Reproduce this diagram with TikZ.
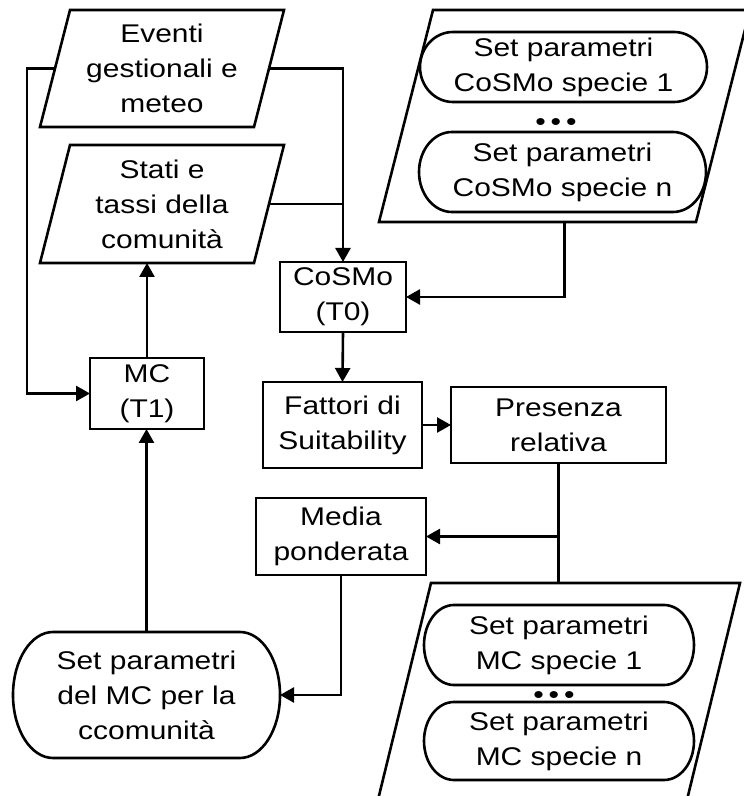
\documentclass[tikz,border=0pt]{standalone}
\usepackage{fontspec}
\setmainfont{Liberation Sans}[FakeStretch=1.17]
\usetikzlibrary{arrows.meta,calc}
\newcommand\stadiumdraw[2]{%
  \draw[lw] let \p1=(#1.north), \p2=(#1.south), \n1={(\y1-\y2)/2} in
    ([xshift=#2]#1.north west) -- ([xshift=-#2]#1.north east)
    arc[start angle=90,end angle=-90,x radius=#2,y radius=\n1]
    -- ([xshift=#2]#1.south west)
    arc[start angle=270,end angle=90,x radius=#2,y radius=\n1] -- cycle;}
\newcommand\paradraw[2]{%
  \draw[lw] ([xshift=#2]#1.north west) -- (#1.north east)
    -- ([xshift=-#2]#1.south east) -- (#1.south west) -- cycle;}
\begin{document}
\begin{tikzpicture}[x=1pt,y=1pt,
  every node/.style={font=\fontsize{25.6}{35}\selectfont, align=center, inner sep=0pt, outer sep=0pt},
  lw/.style={line width=2.6pt},
  box/.style={draw, lw, rectangle},
  para/.style={rectangle},
  stad/.style={rectangle},
  dots/.style={yshift=-4pt},
  arr/.style={lw, -{Triangle[length=14pt,width=15pt]}},
  con/.style={lw}]
\useasboundingbox (0,0) rectangle (744,796);
\clip (0,0) rectangle (744,796);
% left column
\node[para, minimum width=244pt, minimum height=117pt] (ev) at (162,727.5) {Eventi\\gestionali e\\meteo};
\paradraw{ev}{30pt}
\node[para, minimum width=244pt, minimum height=118pt] (st) at (162,592) {Stati e\\tassi della\\comunità};
\paradraw{st}{30pt}
\node[box, minimum width=114pt, minimum height=71pt] (mc) at (147,402.5) {MC\\(T1)};
\node[stad, minimum width=267pt, minimum height=126pt] (sp) at (146.5,101) {Set parametri\\del MC per la\\ccomunità};
\stadiumdraw{sp}{40pt}
% middle
\node[box, minimum width=126pt, minimum height=70pt] (cosmo) at (343,499) {CoSMo\\(T0)};
\node[box, minimum width=159pt, minimum height=86pt] (fat) at (342.5,371) {Fattori di\\Suitability};
\node[box, minimum width=170pt, minimum height=77pt] (md) at (341,259.5) {Media\\ponderata};
\node[box, minimum width=215pt, minimum height=76pt] (pr) at (558.5,371) {Presenza\\relativa};
% right top parallelogram
\node[para, minimum width=371pt, minimum height=212pt] (cp) at (564.5,680) {};
\paradraw{cp}{54pt}
\node[stad, minimum width=287pt, minimum height=70pt] (cs1) at (563.5,729) {Set parametri\\CoSMo specie 1};
\stadiumdraw{cs1}{33pt}
\node[dots] (d1) at (556,675) {•\hspace{5pt}•\hspace{5pt}•};
\node[stad, minimum width=287pt, minimum height=80pt] (cs2) at (562.5,624) {Set parametri\\CoSMo specie n};
\stadiumdraw{cs2}{33pt}
% right bottom parallelogram
\node[para, minimum width=364pt, minimum height=225pt] (mcp) at (558,100.5) {};
\paradraw{mcp}{55pt}
\node[stad, minimum width=270pt, minimum height=80pt] (ms1) at (559,151) {Set parametri\\MC specie 1};
\stadiumdraw{ms1}{30pt}
\node[dots] (d2) at (554,102) {•\hspace{5pt}•\hspace{5pt}•};
\node[stad, minimum width=270pt, minimum height=78pt] (ms2) at (559,55) {Set parametri\\MC specie n};
\stadiumdraw{ms2}{30pt}
% connectors
\draw[arr] ([xshift=15pt]ev.west) -- ++(-28pt,0) |- (mc.west);
\draw[arr] ([xshift=-15pt]ev.east) -| (cosmo.north);
\draw[con] ([xshift=-15pt]st.east) -- (st.east -| cosmo.north);
\draw[arr] (mc.north) -- (mc.north |- st.south);
\draw[arr] (sp.north) -- (sp.north |- mc.south);
\draw[arr] (cp.south) |- (cosmo.east);
\draw[arr] (cosmo.south) -- (fat.north);
\draw[arr] (fat.east) -- (fat.east -| pr.west);
\draw[con] (pr.south) -- (pr.south |- mcp.north);
\draw[arr] (pr.south |- md.east) -- (md.east);
\draw[arr] (md.south) |- (sp.east);
\end{tikzpicture}
\end{document}
